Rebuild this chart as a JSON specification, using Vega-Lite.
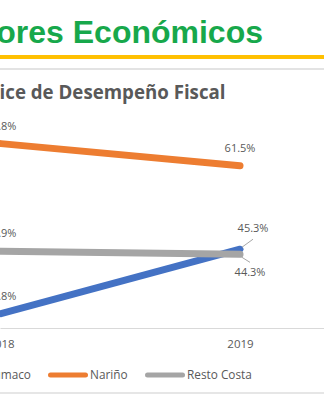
{
  "$schema": "https://vega.github.io/schema/vega-lite/v6.json",
  "autosize": {"type": "none"},
  "padding": {"left": 0, "top": 122, "right": 0, "bottom": 72},
  "width": 324,
  "height": 206,
  "background": "white",
  "title": {
    "text": "Indicadores Económicos",
    "anchor": "end",
    "frame": "group",
    "dx": -61,
    "dy": 30,
    "offset": 11,
    "baseline": "alphabetic",
    "font": "Liberation Sans",
    "fontSize": 32,
    "fontWeight": "bold",
    "color": "#17A84B"
  },
  "config": {
    "view": {"stroke": null},
    "text": {"font": "Open Sans"}
  },
  "data": {
    "values": [
      {"serie": "Tumaco", "year": 2018, "value": 0.328},
      {"serie": "Tumaco", "year": 2019, "value": 0.453},
      {"serie": "Nariño", "year": 2018, "value": 0.658},
      {"serie": "Nariño", "year": 2019, "value": 0.615},
      {"serie": "Resto Costa", "year": 2018, "value": 0.449},
      {"serie": "Resto Costa", "year": 2019, "value": 0.443}
    ]
  },
  "encoding": {
    "x": {
      "field": "year",
      "type": "quantitative",
      "scale": {"domain": [2017.9958, 2019.3514], "nice": false, "zero": false},
      "axis": {
        "values": [2018, 2019],
        "format": "d",
        "title": null,
        "grid": false,
        "ticks": false,
        "labelFlush": false,
        "labelPadding": 10,
        "labelFont": "Open Sans",
        "labelFontSize": 11.5,
        "labelColor": "#595959",
        "domainColor": "#D9D9D9",
        "domainWidth": 1
      }
    },
    "y": {
      "field": "value",
      "type": "quantitative",
      "scale": {"domain": [0.30, 0.70], "nice": false, "zero": false},
      "axis": {
        "title": "Índice de Desempeño Fiscal",
        "labels": false,
        "ticks": false,
        "domain": false,
        "grid": false,
        "titleAngle": 0,
        "titleAlign": "right",
        "titleBaseline": "alphabetic",
        "titleX": 225,
        "titleY": -24,
        "titleFont": "Open Sans",
        "titleFontSize": 18.7,
        "titleFontWeight": "bold",
        "titleColor": "#595959"
      }
    }
  },
  "layer": [
    {
      "mark": {"type": "rule", "color": "#FFC000", "strokeWidth": 3, "clip": false},
      "encoding": {"x": null, "y": {"datum": 0.826, "type": "quantitative"}}
    },
    {
      "mark": {"type": "rule", "color": "#E3E3E3", "strokeWidth": 1.5, "clip": false},
      "encoding": {"x": null, "y": {"datum": 0.803, "type": "quantitative"}}
    },
    {
      "mark": {"type": "rule", "color": "#E6E6E6", "strokeWidth": 1.5, "clip": false},
      "encoding": {"x": null, "y": {"datum": 0.174, "type": "quantitative"}}
    },
    {
      "mark": {"type": "line", "strokeWidth": 7, "strokeCap": "round", "clip": true},
      "encoding": {
        "color": {
          "field": "serie",
          "type": "nominal",
          "scale": {"domain": ["Tumaco", "Nariño", "Resto Costa"], "range": ["#4472C4", "#ED7D31", "#A5A5A5"]},
          "legend": {
            "orient": "none",
            "legendX": -55,
            "legendY": 233,
            "direction": "horizontal",
            "title": null,
            "symbolType": "stroke",
            "symbolSize": 1225,
            "symbolStrokeWidth": 5,
            "labelFont": "Open Sans",
            "labelFontSize": 11.8,
            "labelColor": "#595959",
            "labelOffset": 2,
            "columnPadding": 9,
            "encode": {"symbols": {"update": {"strokeCap": {"value": "round"}}}}
          }
        }
      }
    },
    {
      "transform": [{"filter": "datum.year == 2018 || datum.serie == 'Nariño'"}],
      "mark": {"type": "text", "dy": -17, "fontSize": 11, "color": "#595959", "baseline": "middle"},
      "encoding": {"text": {"field": "value", "type": "quantitative", "format": ".1%"}}
    },
    {
      "transform": [{"filter": "datum.year == 2019 && datum.serie == 'Tumaco'"}],
      "mark": {"type": "text", "dx": 13, "dy": -20, "fontSize": 11, "color": "#595959", "baseline": "middle"},
      "encoding": {"text": {"field": "value", "type": "quantitative", "format": ".1%"}}
    },
    {
      "transform": [{"filter": "datum.year == 2019 && datum.serie == 'Resto Costa'"}],
      "mark": {"type": "text", "dx": 10, "dy": 19, "fontSize": 11, "color": "#595959", "baseline": "middle"},
      "encoding": {"text": {"field": "value", "type": "quantitative", "format": ".1%"}}
    },
    {
      "transform": [{"filter": "datum.year == 2019 && datum.serie == 'Tumaco'"}],
      "mark": {"type": "rule", "color": "#A6A6A6", "strokeWidth": 1, "xOffset": 2, "yOffset": -2, "x2Offset": 13, "y2Offset": -10},
      "encoding": {"x2": {"field": "year"}, "y2": {"field": "value"}}
    },
    {
      "transform": [{"filter": "datum.year == 2019 && datum.serie == 'Resto Costa'"}],
      "mark": {"type": "rule", "color": "#A6A6A6", "strokeWidth": 1, "xOffset": 2, "yOffset": 3, "x2Offset": 10, "y2Offset": 8},
      "encoding": {"x2": {"field": "year"}, "y2": {"field": "value"}}
    }
  ]
}
